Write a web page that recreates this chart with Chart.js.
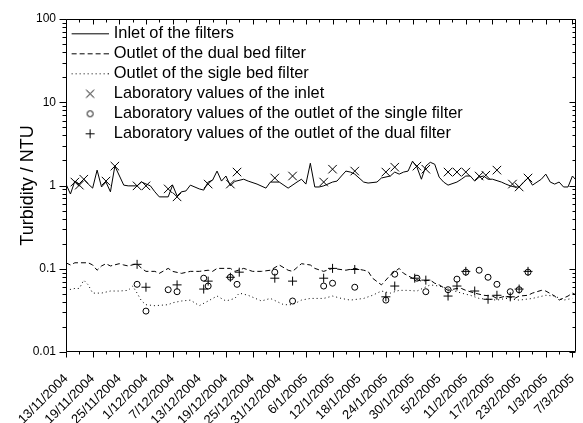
<!DOCTYPE html>
<html>
<head>
<meta charset="utf-8">
<script src="https://cdn.jsdelivr.net/npm/chart.js@4.4.1/dist/chart.umd.min.js"></script>
<style>
  body { margin: 0; background: #fff; }
</style>
</head>
<body>
<canvas id="turbidity-chart" width="583" height="423"></canvas>
<script>
// x values are days counted from 13/11/2004
const dateLabels = ['13/11/2004', '19/11/2004', '25/11/2004', '1/12/2004', '7/12/2004', '13/12/2004',
    '19/12/2004', '25/12/2004', '31/12/2004', '6/1/2005', '12/1/2005', '18/1/2005', '24/1/2005',
    '30/1/2005', '5/2/2005', '11/2/2005', '17/2/2005', '23/2/2005', '1/3/2005', '7/3/2005'];
const yTickLabels = ['0.01', '0.1', '1', '10', '100'];

// online turbidimeters
const inletDays = [0, 1, 2, 3, 4, 5, 6, 7, 8, 9, 10, 11, 13, 14, 16, 17, 19, 20, 21, 23, 24, 25, 26, 27, 28, 30,
    31, 32, 33, 34, 35, 36, 37, 38, 40, 41, 43, 45, 46, 48, 50, 52, 53, 54, 55, 56, 57, 58, 60, 61, 62, 63,
    64, 65, 67, 68, 70, 71, 73, 74, 75, 76, 77, 78, 79, 80, 81, 82, 83, 84, 85, 86, 88, 89, 90, 91, 92, 93,
    94, 95, 96, 98, 99, 100, 101, 102, 103, 104, 105, 107, 108, 109, 110, 111, 112, 113, 114, 115];
const inletValues = [1.04, 0.79, 1.13, 1.04, 1.19, 1.04, 0.93, 1.53, 0.96, 1.10, 0.84, 1.71, 1.01, 0.99, 0.99,
    1.10, 0.99, 0.84, 0.73, 0.73, 1.01, 0.75, 0.84, 0.86, 1.01, 0.91, 0.88, 1.10, 1.16, 1.49, 1.13, 1.30,
    0.99, 1.12, 1.19, 1.13, 1.04, 0.93, 1.10, 1.10, 0.93, 1.10, 1.19, 1.04, 1.85, 0.96, 0.96, 0.99, 1.10,
    1.13, 1.30, 1.49, 1.45, 1.37, 1.10, 1.07, 1.10, 1.23, 1.30, 1.45, 1.37, 1.45, 1.49, 1.96, 1.66, 1.19,
    1.71, 1.90, 1.80, 1.26, 1.10, 1.01, 1.10, 1.19, 1.30, 1.30, 1.13, 1.26, 1.30, 1.19, 1.19, 1.10, 1.04,
    0.99, 0.96, 0.96, 1.10, 1.23, 1.01, 1.19, 1.37, 1.10, 1.04, 1.10, 0.96, 0.96, 1.30, 1.13];

const dualDays = [0, 1, 2, 5, 6, 7, 8, 9, 10, 12, 13, 14, 16, 17, 18, 20, 21, 23, 24, 26, 28, 30, 32, 33, 34,
    37, 38, 40, 42, 44, 46, 48, 50, 51, 53, 55, 56, 58, 60, 63, 65, 67, 68, 69, 71, 72, 73, 75, 76, 78, 80,
    82, 83, 84, 86, 88, 89, 90, 92, 94, 96, 97, 99, 101, 102, 104, 105, 107, 108, 110, 111, 113, 114, 115];
const dualValues = [0.118, 0.111, 0.118, 0.118, 0.111, 0.096, 0.108, 0.115, 0.108, 0.115, 0.111, 0.108,
    0.115, 0.101, 0.093, 0.093, 0.088, 0.101, 0.093, 0.088, 0.093, 0.093, 0.096, 0.093, 0.101, 0.101,
    0.093, 0.101, 0.093, 0.093, 0.096, 0.111, 0.096, 0.093, 0.115, 0.111, 0.101, 0.093, 0.101, 0.096,
    0.101, 0.096, 0.093, 0.077, 0.064, 0.073, 0.084, 0.101, 0.088, 0.077, 0.071, 0.073, 0.067, 0.064,
    0.055, 0.058, 0.058, 0.055, 0.051, 0.048, 0.047, 0.044, 0.047, 0.044, 0.047, 0.048, 0.051, 0.055,
    0.054, 0.047, 0.042, 0.047, 0.051, 0.048];

const singleDays = [0, 2, 3, 4, 5, 6, 8, 10, 12, 14, 15, 16, 17, 18, 20, 23, 24, 26, 28, 30, 32, 34, 36, 38,
    39, 41, 44, 46, 49, 51, 53, 55, 58, 60, 62, 64, 67, 69, 71, 73, 75, 77, 79, 82, 84, 87, 89, 91, 93, 97,
    99, 102, 105, 108, 110, 112, 114];
const singleValues = [0.055, 0.058, 0.058, 0.073, 0.064, 0.051, 0.051, 0.054, 0.054, 0.055, 0.062, 0.051,
    0.041, 0.037, 0.036, 0.037, 0.039, 0.041, 0.042, 0.036, 0.041, 0.047, 0.041, 0.044, 0.051, 0.048,
    0.041, 0.044, 0.037, 0.037, 0.042, 0.044, 0.044, 0.047, 0.044, 0.042, 0.044, 0.048, 0.054, 0.051,
    0.055, 0.055, 0.054, 0.064, 0.062, 0.055, 0.051, 0.048, 0.044, 0.042, 0.044, 0.042, 0.044, 0.048,
    0.047, 0.042, 0.044];

// laboratory samples
const labInletDays = [2, 3, 4, 9, 11, 16, 18, 23, 25, 32, 37, 38.5, 47, 51, 58, 60, 65, 72, 74, 79, 81, 86,
    88, 90, 93, 94.5, 97, 100.5, 102, 104];
const labInletValues = [1.10, 1.01, 1.19, 1.13, 1.71, 0.99, 0.99, 0.91, 0.73, 1.04, 1.04, 1.45, 1.23, 1.30,
    1.10, 1.57, 1.49, 1.45, 1.66, 1.71, 1.57, 1.45, 1.45, 1.45, 1.30, 1.33, 1.53, 1.04, 0.96, 1.23];

const labSingleDays = [16, 18, 23, 25, 31, 32, 37, 38.5, 47, 51, 58, 60, 65, 72, 74, 79, 81, 86, 88, 90, 93,
    95, 97, 100, 102, 104];
const labSingleValues = [0.065, 0.031, 0.056, 0.053, 0.077, 0.062, 0.079, 0.065, 0.091, 0.041, 0.062, 0.067,
    0.060, 0.042, 0.086, 0.077, 0.053, 0.056, 0.075, 0.091, 0.096, 0.079, 0.065, 0.053, 0.056, 0.091];

const labDualDays = [16, 18, 25, 31, 32, 37, 39, 47, 51, 58, 60, 65, 72, 74, 78.5, 81, 86, 88, 90, 92, 95,
    97, 100, 102, 104];
const labDualValues = [0.113, 0.060, 0.064, 0.057, 0.071, 0.079, 0.091, 0.077, 0.071, 0.077, 0.101, 0.098,
    0.046, 0.062, 0.077, 0.073, 0.047, 0.062, 0.093, 0.054, 0.043, 0.048, 0.046, 0.057, 0.093];

const toPoints = (days, values) => days.map((d, i) => ({x: d, y: values[i]}));

Chart.defaults.font.family = '"Liberation Sans", Arial, sans-serif';
Chart.defaults.color = '#000';

// small pictures for the legend samples
function legendIcon(draw) {
    const c = document.createElement('canvas');
    c.width = 42;
    c.height = 14;
    const g = c.getContext('2d');
    g.strokeStyle = '#000';
    g.lineWidth = 1;
    g.beginPath();
    draw(g);
    g.stroke();
    return c;
}
const lineIcon = dash => legendIcon(g => { g.setLineDash(dash); g.moveTo(5, 7.5); g.lineTo(42, 7.5); });
const icons = [
    lineIcon([]),
    lineIcon([5, 3]),
    lineIcon([1, 3]),
    legendIcon(g => { g.moveTo(19.5, 3.5); g.lineTo(27.5, 11.5); g.moveTo(27.5, 3.5); g.lineTo(19.5, 11.5); }),
    legendIcon(g => { g.arc(23.5, 7.5, 3, 0, Math.PI * 2); }),
    legendIcon(g => { g.moveTo(19, 7.5); g.lineTo(28, 7.5); g.moveTo(23.5, 3); g.lineTo(23.5, 12); })
];

// box and tick marks on all four sides
const frame = {
    id: 'frame',
    afterLayout(chart) {
        const lg = chart.legend;
        const h = lg.bottom - lg.top;
        lg.top = chart.chartArea.top + 2.5;
        lg.bottom = lg.top + h;
    },
    afterDraw(chart) {
        const {ctx, chartArea: a, scales: {x, y}} = chart;
        const L = Math.round(a.left) + 0.5, R = Math.round(a.right) - 0.5;
        const T = Math.round(a.top) + 0.5, B = Math.round(a.bottom) - 0.5;
        ctx.save();
        ctx.strokeStyle = '#000';
        ctx.lineWidth = 1;
        ctx.beginPath();
        ctx.rect(L, T, R - L, B - T);
        for (let d = 0; d <= x.max; d += 3) {
            const p = Math.round(x.getPixelForValue(d)) + 0.5;
            const major = d % 6 === 0;
            ctx.moveTo(p, B); ctx.lineTo(p, B + (major ? 6 : 3));
            ctx.moveTo(p, T); ctx.lineTo(p, T + (major ? 5 : 3));
        }
        for (let e = -2; e <= 2; e++) {
            for (let m = 1; m <= (e === 2 ? 1 : 9); m++) {
                const p = Math.round(y.getPixelForValue(m * Math.pow(10, e))) + 0.5;
                const major = m === 1;
                ctx.moveTo(L, p); ctx.lineTo(L - (major ? 7 : 4), p);
                ctx.moveTo(R, p); ctx.lineTo(R - (major ? 6 : 3), p);
            }
        }
        ctx.stroke();
        ctx.restore();
    }
};

const lineStyle = {type: 'line', borderColor: '#000', borderWidth: 1, pointRadius: 0, tension: 0, fill: false};
const markStyle = {type: 'scatter', borderColor: '#000', backgroundColor: 'rgba(0,0,0,0)', borderWidth: 1};

const data = {
    datasets: [
        {...lineStyle, label: 'Inlet of the filters', data: toPoints(inletDays, inletValues)},
        {...lineStyle, label: 'Outlet of the dual bed filter', data: toPoints(dualDays, dualValues), borderDash: [5, 3]},
        {...lineStyle, label: 'Outlet of the sigle bed filter', data: toPoints(singleDays, singleValues), borderDash: [1, 3]},
        {...markStyle, label: 'Laboratory values of the inlet', data: toPoints(labInletDays, labInletValues),
            pointStyle: 'crossRot', pointRadius: 6},
        {...markStyle, label: 'Laboratory values of the outlet of the single filter', data: toPoints(labSingleDays, labSingleValues),
            pointStyle: 'circle', pointRadius: 3},
        {...markStyle, label: 'Laboratory values of the outlet of the dual filter', data: toPoints(labDualDays, labDualValues),
            pointStyle: 'cross', pointRadius: 4.5}
    ]
};

const config = {
    type: 'line',
    data: data,
    options: {
        responsive: false,
        animation: false,
        layout: {padding: {top: 19, right: 1, left: 0, bottom: 0}},
        scales: {
            x: {
                type: 'linear',
                bounds: 'data',
                min: 0,
                max: 114.8,
                grid: {display: false, drawTicks: false},
                border: {display: false},
                afterBuildTicks: scale => {
                    scale.ticks = dateLabels.map((_, i) => ({value: i * 6}));
                },
                ticks: {
                    autoSkip: false,
                    minRotation: 45,
                    maxRotation: 45,
                    padding: 19,
                    font: {size: 13},
                    callback: v => dateLabels[Math.round(v / 6)] || ''
                },
                afterFit: scale => {
                    scale.height = 71;
                    scale.paddingLeft = 0;
                    scale.paddingRight = 0;
                }
            },
            y: {
                type: 'logarithmic',
                min: 0.01,
                max: 100,
                grid: {display: false, drawTicks: false},
                border: {display: false},
                ticks: {
                    autoSkip: false,
                    padding: 10,
                    font: {size: 12},
                    callback: v => {
                        const e = Math.log10(v);
                        return Math.abs(e - Math.round(e)) < 1e-6 ? yTickLabels[Math.round(e) + 2] : '';
                    }
                },
                title: {display: true, text: 'Turbidity / NTU', font: {size: 18}, padding: {top: 17, bottom: 0}},
                afterFit: scale => {
                    scale.width = 66;
                    scale.paddingTop = 0;
                    scale.paddingBottom = 0;
                }
            }
        },
        plugins: {
            tooltip: {enabled: false},
            legend: {
                position: 'chartArea',
                align: 'start',
                labels: {
                    usePointStyle: true,
                    pointStyleWidth: 36,
                    padding: 3.6,
                    font: {size: 16.4},
                    color: '#000',
                    generateLabels: chart => chart.data.datasets.map((ds, i) => ({
                        text: ds.label,
                        pointStyle: icons[i],
                        fillStyle: 'rgba(0,0,0,0)',
                        strokeStyle: 'rgba(0,0,0,0)',
                        lineWidth: 0,
                        hidden: false,
                        datasetIndex: i
                    }))
                }
            }
        }
    },
    plugins: [frame]
};

new Chart(document.getElementById('turbidity-chart'), config);
</script>
</body>
</html>
